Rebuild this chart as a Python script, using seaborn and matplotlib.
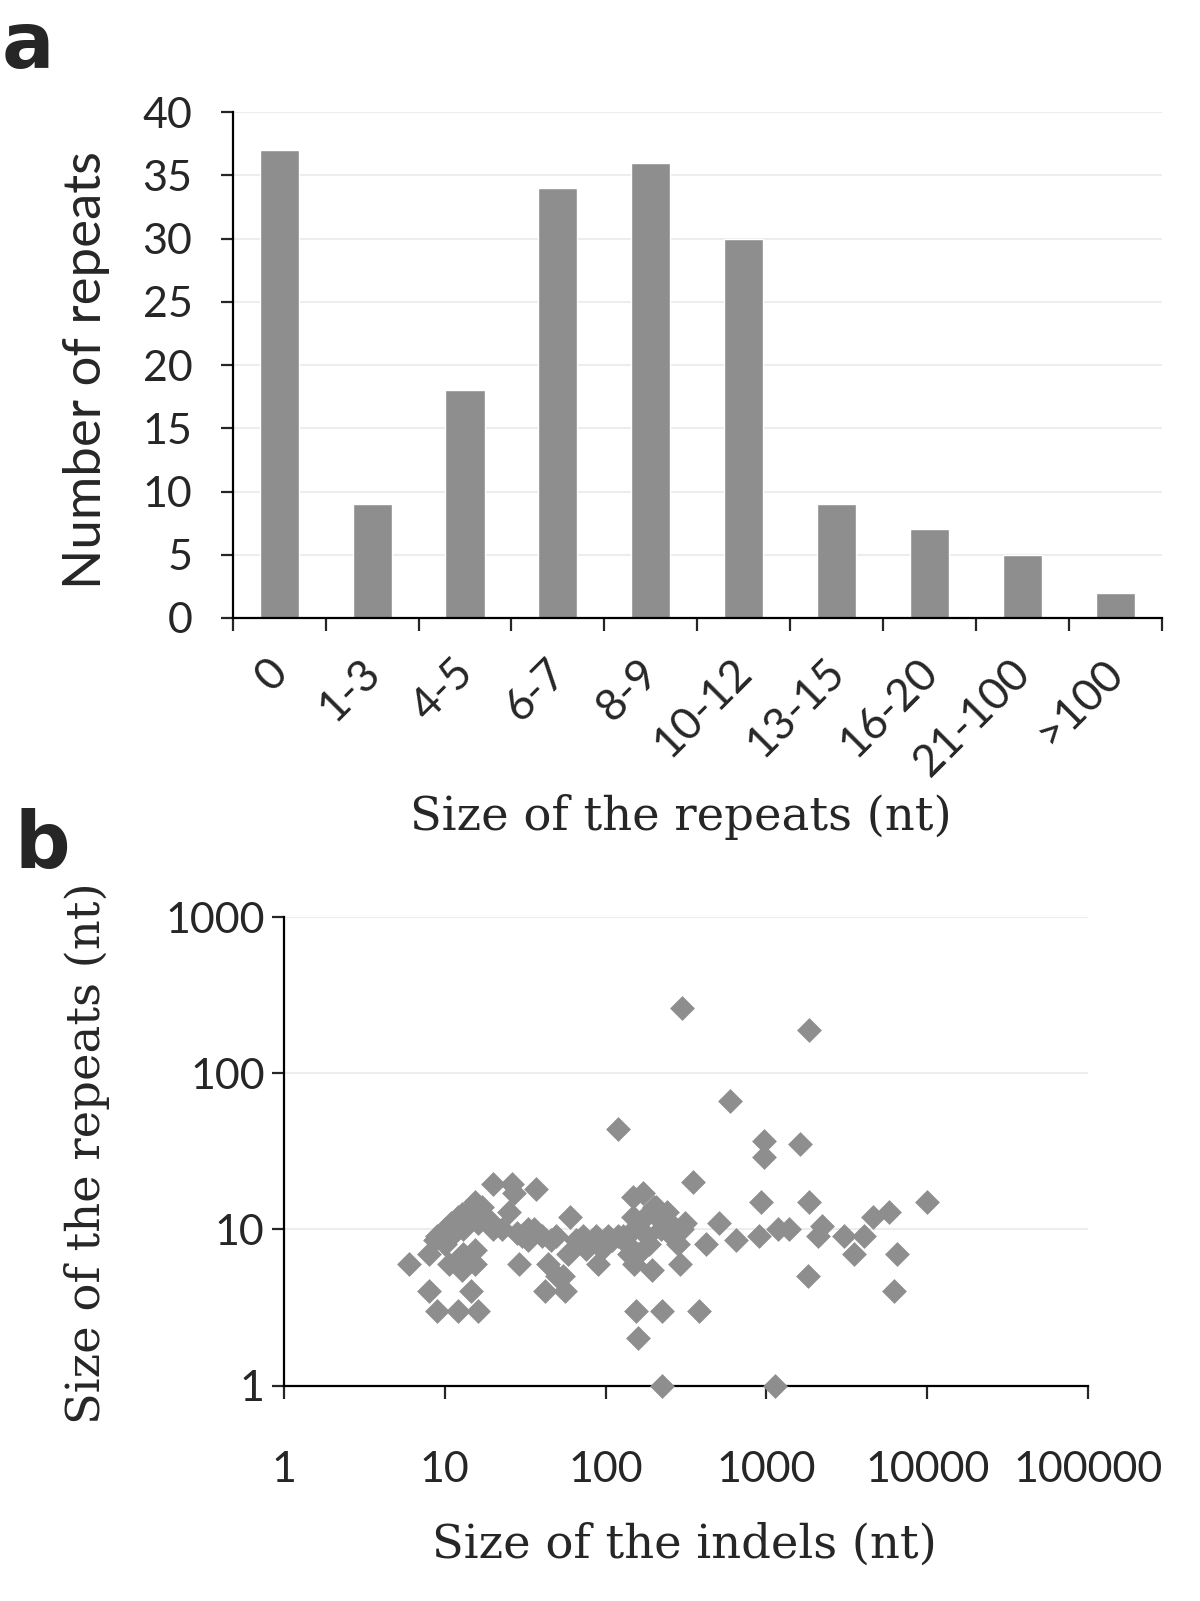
import matplotlib
matplotlib.use("Agg")
import matplotlib.pyplot as plt
import matplotlib.transforms as mtransforms
from matplotlib.ticker import FixedLocator, NullLocator
import seaborn as sns
import pandas as pd

# panel a: repeat size histogram
size_classes = ["0", "1-3", "4-5", "6-7", "8-9", "10-12", "13-15", "16-20", "21-100", ">100"]
repeat_counts = [37, 9, 18, 34, 36, 30, 9, 7, 5, 2]

# panel b: indel size vs repeat size
indel_size = [6, 8, 8, 8.7, 9, 9, 10, 10, 10.6, 11, 11, 12, 12, 12.8, 12.8, 13, 13, 14,
              14.5, 15.5, 15.5, 15.5, 16, 16, 17, 18.7, 20, 20, 22.7, 26, 25, 27, 29, 28,
              33, 37, 30, 33, 36, 40, 42, 44, 46, 49, 50, 54, 56, 58, 60, 65, 72, 75, 80,
              87, 90, 95, 104, 110, 120, 128, 135, 140, 147, 147, 150, 155, 160, 150, 160,
              170, 175, 180, 185, 195, 200, 205, 210, 220, 225, 225, 240, 250, 260, 280,
              290, 300, 310, 300, 350, 380, 420, 510, 590, 645, 900, 930, 960, 960, 1130,
              1180, 1390, 1620, 1820, 1850, 1850, 2100, 2200, 3050, 3500, 4070, 4600, 5800,
              6200, 6500, 10000, 120]
repeat_size = [6, 7, 4, 8.5, 3, 9, 10, 8, 6, 11, 9, 3, 12, 12.5, 5.5, 7, 10, 13,
               4, 15, 7.4, 6, 3, 11, 14, 11.4, 19.5, 10, 10, 19.5, 13, 17, 6, 9.5,
               10, 18, 9, 8.5, 10, 9, 4, 6, 8.5, 9, 5, 5, 4, 7, 12, 8.5, 9, 7.5, 8,
               9, 6, 7.5, 9, 8.5, 9, 9, 8, 7, 16, 12, 6, 3, 2, 10, 7,
               17, 12, 9, 8, 5.5, 14, 14, 12, 10, 3, 1, 13, 11, 9, 8,
               6, 10, 11, 260, 20, 3, 8, 11, 66, 8.5, 9, 15, 37, 29, 1,
               10, 10, 35, 5, 15, 190, 9, 10.5, 9, 7, 9, 12, 13,
               4, 7, 15, 44]

gray = "#8e8e8e"
grid_gray = "#ededed"
sans = ["Lato", "DejaVu Sans"]
serif = ["DejaVu Serif"]
tick_size = 31

sns.set_style("white")
plt.rcParams["font.family"] = sans

fig = plt.figure(figsize=(12, 16.01), dpi=100)

# ---- panel a ----
ax1 = fig.add_axes([0.194, 0.614, 0.774, 0.316])
df_a = pd.DataFrame({"size": size_classes, "count": repeat_counts})
sns.barplot(data=df_a, x="size", y="count", order=size_classes, color=gray,
            saturation=1, width=0.42, ax=ax1, zorder=2)
ax1.set_xlim(-0.5, len(size_classes) - 0.5)
ax1.set_ylim(0, 40)
ax1.set_yticks(range(0, 41, 5))
ax1.yaxis.grid(True, color=grid_gray, linewidth=1.5, zorder=0)
ax1.set_axisbelow(True)
for s in ["top", "right"]:
    ax1.spines[s].set_visible(False)
for s in ["left", "bottom"]:
    ax1.spines[s].set_linewidth(1.6)
    ax1.spines[s].set_color("black")
ax1.tick_params(axis="y", direction="out", length=9, width=1.6, pad=20, labelsize=tick_size, left=True)
ax1.xaxis.set_minor_locator(FixedLocator([i - 0.5 for i in range(len(size_classes) + 1)]))
ax1.tick_params(axis="x", which="minor", direction="out", length=9, width=1.6, bottom=True)
ax1.tick_params(axis="x", which="major", length=0, pad=24, labelsize=32)
offset = mtransforms.ScaledTranslation(16 / 100, 0, fig.dpi_scale_trans)
for lab in ax1.get_xticklabels():
    lab.set_rotation(45)
    lab.set_ha("right")
    lab.set_va("top")
    lab.set_transform(lab.get_transform() + offset)
ax1.set_xlabel("")
ax1.set_ylabel("")
fig.text(87 / 1200, 1 - 370 / 1601, "Number of repeats", fontsize=38,
         ha="center", va="center", rotation=90)
fig.text(681 / 1200, 1 - 817 / 1601, "Size of the repeats (nt)", family=serif,
         fontsize=33.5, ha="center", va="center")

# ---- panel b ----
ax2 = fig.add_axes([0.2367, 0.1346, 0.67, 0.2926])
df_b = pd.DataFrame({"indel": indel_size, "repeat": repeat_size})
sns.scatterplot(data=df_b, x="indel", y="repeat", marker="D", s=160, color=gray,
                linewidth=0, ax=ax2, clip_on=False, zorder=3)
ax2.set_xscale("log")
ax2.set_yscale("log")
ax2.set_xlim(1, 100000)
ax2.set_ylim(1, 1000)
xt = [1, 10, 100, 1000, 10000, 100000]
yt = [1, 10, 100, 1000]
ax2.xaxis.set_major_locator(FixedLocator(xt))
ax2.yaxis.set_major_locator(FixedLocator(yt))
ax2.xaxis.set_minor_locator(NullLocator())
ax2.yaxis.set_minor_locator(NullLocator())
ax2.set_xticklabels([str(v) for v in xt])
ax2.set_yticklabels([str(v) for v in yt])
ax2.yaxis.grid(True, color=grid_gray, linewidth=1.5, zorder=0)
ax2.set_axisbelow(True)
for s in ["top", "right"]:
    ax2.spines[s].set_visible(False)
for s in ["left", "bottom"]:
    ax2.spines[s].set_linewidth(1.6)
    ax2.spines[s].set_color("black")
ax2.tick_params(axis="x", direction="out", length=9, width=1.6, pad=38, labelsize=tick_size, bottom=True)
ax2.tick_params(axis="y", direction="out", length=9, width=1.6, pad=5, labelsize=tick_size, left=True)
ax2.set_xlabel("")
ax2.set_ylabel("")
fig.text(684 / 1200, 1 - 1545 / 1601, "Size of the indels (nt)", family=serif,
         fontsize=33.5, ha="center", va="center")
fig.text(87 / 1200, 1 - 1153 / 1601, "Size of the repeats (nt)", family=serif,
         fontsize=33.5, ha="center", va="center", rotation=90)

# panel letters
fig.text(28 / 1200, 1 - 46 / 1601, "a", family=["DejaVu Sans"], fontsize=56,
         fontweight="bold", ha="center", va="center")
fig.text(42 / 1200, 1 - 846 / 1601, "b", family=["DejaVu Sans"], fontsize=56,
         fontweight="bold", ha="center", va="center")

fig.savefig("out.png", dpi=100, facecolor="white")
